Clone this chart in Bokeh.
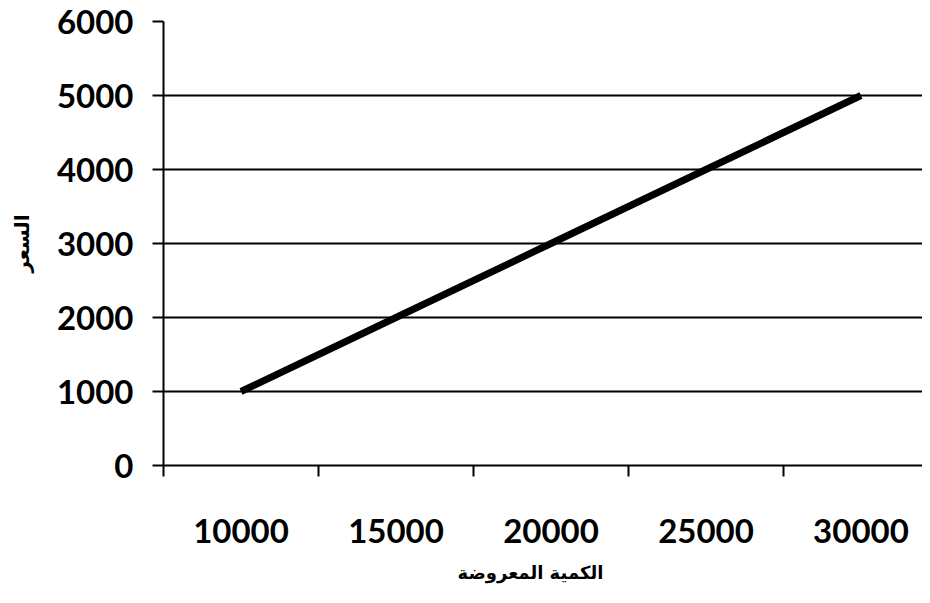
from bokeh.plotting import figure
from bokeh.models import Range1d, FixedTicker, Title
from bokeh.embed import file_html
from bokeh.resources import INLINE

# Data
quantity = [10000, 15000, 20000, 25000, 30000]
price = [1000, 2000, 3000, 4000, 5000]
y_ticks = [0, 1000, 2000, 3000, 4000, 5000, 6000]
x_title = "الكمية المعروضة"
y_title = "السعر"

n = len(quantity)
xs = [i + 0.5 for i in range(n)]
cat_edges = list(range(n + 1))

p = figure(width=922, height=595, output_backend="svg", toolbar_location=None,
           x_range=Range1d(0, 4.897), y_range=Range1d(0, 6000),
           min_border_left=163, min_border_right=0, min_border_top=21,
           min_border_bottom=130)
p.outline_line_color = None
p.background_fill_color = "white"
p.border_fill_color = "white"

p.line(x=xs, y=price, line_width=7, line_color="black")

# y axis
yax = p.yaxis[0]
yax.ticker = FixedTicker(ticks=y_ticks)
yax.axis_line_width = 2
yax.axis_line_color = "black"
yax.major_tick_out = 11
yax.major_tick_in = 0
yax.major_tick_line_width = 2
yax.minor_tick_line_color = None
yax.major_label_text_font = "Lato"
yax.major_label_text_font_style = "bold"
yax.major_label_text_font_size = "33px"
yax.major_label_text_color = "black"
yax.major_label_standoff = 19
yax.axis_label = y_title
yax.axis_label_text_font = "DejaVu Sans"
yax.axis_label_text_font_style = "bold"
yax.axis_label_text_font_size = "20px"
yax.axis_label_text_color = "black"
yax.axis_label_standoff = 20

# x axis
xax = p.xaxis[0]
xax.ticker = FixedTicker(ticks=xs, minor_ticks=cat_edges)
xax.major_label_overrides = {x: str(q) for x, q in zip(xs, quantity)}
xax.axis_line_width = 2
xax.axis_line_color = "black"
xax.major_tick_out = 0
xax.major_tick_in = 0
xax.major_tick_line_color = None
xax.minor_tick_out = 11
xax.minor_tick_in = 0
xax.minor_tick_line_width = 2
xax.minor_tick_line_color = "black"
xax.major_label_text_font = "Lato"
xax.major_label_text_font_style = "bold"
xax.major_label_text_font_size = "33px"
xax.major_label_text_color = "black"
xax.major_label_standoff = 42
# blank spacer label to push the title below a little further down
xax.axis_label = " "
xax.axis_label_text_font_size = "6px"
xax.axis_label_standoff = 0

# x title (placed below, shifted left of frame centre as in reference)
xt = Title(text=x_title, align="left", offset=294, standoff=10,
           text_font="DejaVu Sans", text_font_style="bold",
           text_font_size="18px", text_color="black")
p.add_layout(xt, "below")

# grid
p.xgrid.visible = False
p.ygrid.ticker = FixedTicker(ticks=y_ticks)
p.ygrid.grid_line_color = "black"
p.ygrid.grid_line_width = 2

open("out.html", "w").write(file_html(p, INLINE))
